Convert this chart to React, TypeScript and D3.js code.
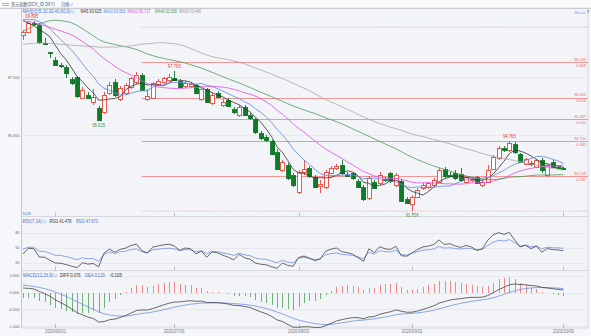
import React from "react";
import * as d3 from "d3";

// ---------- DATA ----------
// closes before the visible window (only used to warm up MA / RSI / MACD)
const priorCloses = [
  98.6, 98.7, 98.9, 99.0, 98.8, 98.9, 99.1, 99.2, 99.0, 98.8, 98.6, 98.5, 98.4, 98.2,
  98.2, 98.5, 98.7, 98.9, 99.1, 99.3, 99.0, 98.8, 98.4, 98.1, 97.8, 97.5, 97.2, 97.3, 96.9, 96.6, 96.8, 96.4, 96.2, 96.0,
  95.3, 94.9, 95.6, 96.0, 96.0,
  97.5, 98.7, 98.9, 99.6, 101.1, 102.7, 102.8, 102.5, 101.9, 101.1, 99.6, 98.6, 99.0, 99.1, 99.6, 100.2, 100.6,
  100.7, 100.0, 100.1, 99.5, 99.5, 99.4, 98.9, 99.4, 100.0, 99.7, 99.9, 100.2, 100.4, 100.4, 100.3, 99.9, 99.6,
];

const opens = [
  99.30, 99.45, 99.82, 99.74, 98.98, 98.57, 98.23, 98.02, 97.93, 97.42,
  97.50, 96.62, 96.75, 96.45, 96.18, 96.00, 96.82, 97.29, 96.56, 96.82,
  97.08, 97.29, 97.59, 96.55, 96.60, 97.22, 97.29, 97.38, 97.48, 97.35,
  97.10, 97.12, 97.16, 96.55, 96.98, 96.38, 96.83, 96.30, 96.52, 96.12,
  95.88, 96.23, 95.87, 95.69, 95.09, 94.92, 94.77, 94.30, 93.52, 93.73,
  93.30, 92.59, 93.40, 93.59, 93.23, 92.80, 92.80, 93.40, 93.60, 93.73,
  93.32, 93.37, 93.06, 92.80, 92.30, 93.00, 92.95, 93.12, 93.38, 92.87,
  93.06, 92.26, 92.09, 92.37, 92.73, 92.77, 92.87, 93.02, 93.55, 93.32,
  93.38, 93.34, 93.00, 93.10, 93.20, 92.87, 93.02, 93.59, 94.02, 94.45,
  94.38, 94.63, 94.20, 93.80, 93.80, 93.66, 93.94, 93.30, 93.87, 93.66,
  93.62,
];
const highs = [
  99.52, 99.88, 99.895, 99.82, 99.18, 98.58, 98.36, 98.10, 98.00, 97.52,
  97.56, 97.08, 96.86, 96.98, 96.28, 96.85, 97.30, 97.42, 97.10, 97.25,
  97.52, 97.70, 97.66, 96.98, 97.30, 97.40, 97.52, 97.62, 97.765, 97.42,
  97.35, 97.30, 97.22, 97.05, 97.05, 96.80, 96.92, 96.58, 96.60, 96.20,
  96.30, 96.30, 95.95, 95.76, 95.18, 95.00, 94.82, 94.40, 93.95, 93.80,
  93.40, 93.50, 93.95, 93.68, 93.30, 93.10, 93.50, 93.68, 93.78, 93.95,
  93.45, 93.45, 93.12, 92.88, 93.25, 93.10, 93.45, 93.22, 93.45, 93.38,
  93.12, 92.35, 92.45, 92.75, 92.95, 93.02, 93.18, 93.60, 93.65, 93.42,
  93.50, 93.62, 93.28, 93.20, 93.28, 93.10, 93.73, 94.15, 94.55, 94.55,
  94.765, 94.70, 94.25, 94.05, 93.90, 94.00, 94.02, 93.78, 93.95, 93.75,
  93.66,
];
const lows = [
  99.10, 99.38, 99.70, 98.90, 98.93, 98.32, 97.98, 97.88, 97.46, 97.18,
  96.62, 96.55, 96.55, 96.30, 95.615, 95.90, 96.75, 96.66, 96.48, 96.75,
  97.00, 97.22, 96.90, 96.48, 96.55, 97.12, 97.20, 97.30, 97.32, 97.02,
  97.02, 97.05, 96.78, 96.48, 96.38, 96.30, 96.60, 96.22, 96.20, 95.92,
  95.80, 95.82, 95.68, 95.05, 94.82, 94.70, 94.18, 93.52, 93.45, 93.10,
  92.80, 92.50, 93.30, 93.18, 92.75, 92.55, 92.72, 93.35, 93.52, 93.30,
  93.20, 93.10, 92.75, 92.18, 92.22, 92.68, 92.88, 93.00, 92.98, 92.80,
  92.15, 92.05, 91.756, 92.30, 92.65, 92.70, 92.80, 92.95, 93.18, 93.22,
  93.10, 93.02, 92.95, 93.02, 92.90, 92.80, 92.95, 93.52, 93.95, 94.30,
  94.30, 94.22, 93.80, 93.72, 93.70, 93.60, 93.38, 93.22, 93.62, 93.58,
  93.52,
];
const closes = [
  99.45, 99.82, 99.78, 99.00, 98.96, 98.55, 98.02, 97.98, 97.68, 97.25,
  96.69, 96.95, 96.62, 96.65, 95.66, 96.72, 97.16, 96.73, 97.03, 97.16,
  97.46, 97.59, 96.95, 96.68, 97.23, 97.35, 97.46, 97.52, 97.40, 97.09,
  97.24, 97.20, 96.83, 96.98, 96.44, 96.73, 96.66, 96.45, 96.26, 95.97,
  96.23, 95.88, 95.73, 95.12, 94.88, 94.77, 94.23, 93.59, 93.87, 93.16,
  92.87, 93.44, 93.55, 93.23, 92.80, 92.90, 93.44, 93.60, 93.70, 93.38,
  93.30, 93.16, 92.80, 92.30, 93.16, 92.73, 93.30, 93.08, 93.02, 93.30,
  92.20, 92.10, 92.37, 92.65, 92.88, 92.95, 93.09, 93.52, 93.23, 93.30,
  93.16, 93.08, 93.20, 93.12, 92.95, 93.02, 93.52, 94.09, 94.45, 94.38,
  94.66, 94.30, 93.87, 94.00, 93.77, 93.94, 93.50, 93.73, 93.66, 93.64,
  93.59,
];

const tickLabels = ["2020/06/01", "2020/07/01", "2020/08/03", "2020/09/01", "2020/10/09"];
const tickIndex = [6, 28, 51, 72, 100];

const fibRatios = ["0.191", "0.382", "0.500", "0.618", "0.809"];
const fibPrices = [93.259, 94.75, 95.687, 96.623, 98.136];
const fibEnds = [91.752, 99.643];
const fibStartIndex = 22;

const maPeriods = [5, 10, 20, 40, 60];
const maNames = ["MA5", "MA10", "MA20", "MA40", "MA60"];
const maLegendValues = ["93.625", "93.603", "93.717", "93.308", "93.448"];

const priceTicks = [97.5, 95.0];
const priceTickLabels = ["97.500", "95.000"];
const rsiTicks = [80, 50, 20];
const macdTicks = [0.5, 0, -0.5, -1];
const macdTickLabels = ["0.500", "0.000", "-0.500", "-1.000"];

const markIndex = [2, 28, 90, 14, 72];
const markPrice = [99.895, 97.765, 94.765, 95.615, 91.756];
const markIsHigh = [true, true, true, false, false];

const rsiLegend = ["RSI(7,14)∨", "RSI1 41.478", "RSI2 47.670"];
const macdLegend = ["MACD(12,26,9)∨", "DIFF 0.076", "DEA 0.129", "-0.105"];

// ---------- STYLE ----------
const RED = "#e8473f";
const GREEN = "#0f7a28";
const FIB = "#f08a8a";
const maColors = ["#333333", "#5d86e8", "#e04fe0", "#4e9b5c", "#a8a8a8"];
const FONT = "'Liberation Sans', Arial, 'Noto Sans CJK SC', sans-serif";

const L = 21.5, R = 588;
const mainTop = 8.5, mainBot = 216.5;
const rsiTop = 216.5, rsiBot = 270.5;
const macdTop = 270.5, macdBot = 328;

// ---------- INDICATORS ----------
const all = [...priorCloses, ...closes];
const P = priorCloses.length;

function movingAvg(n: number) {
  return closes.map((_, k) => d3.mean(all.slice(P + k - n + 1, P + k + 1)) as number);
}
function rsiCalc(n: number) {
  let up = 0, dn = 0;
  const out: number[] = [];
  for (let j = 1; j < all.length; j++) {
    const d = all[j] - all[j - 1];
    up = (Math.max(d, 0) + (n - 1) * up) / n;
    dn = (Math.abs(d) + (n - 1) * dn) / n;
    if (j >= P) out.push(dn === 0 ? 50 : (up / dn) * 100);
  }
  return out;
}
function macdCalc() {
  let e12 = all[0], e26 = all[0], dea = 0;
  const diffs: number[] = [], deas: number[] = [], bars: number[] = [];
  for (let j = 0; j < all.length; j++) {
    const c = all[j];
    e12 = (2 * c + 11 * e12) / 13;
    e26 = (2 * c + 25 * e26) / 27;
    const diff = e12 - e26;
    dea = (2 * diff + 8 * dea) / 10;
    if (j >= P) { diffs.push(diff); deas.push(dea); bars.push(2 * (diff - dea)); }
  }
  return { diffs, deas, bars };
}

// condensed small text (horizontal scale)
function CT(props: { x: number; y: number; s: string; fill: string; sx?: number; size?: number; anchor?: string }) {
  const { x, y, s, fill, sx = 0.82, size = 4.6, anchor = "start" } = props;
  return (
    <g transform={`translate(${x},${y}) scale(${sx},1)`}>
      <text x={0} y={0} fontFamily={FONT} fontSize={size} fill={fill} textAnchor={anchor}>{s}</text>
    </g>
  );
}

export default function App() {
  const x = d3.scaleLinear().domain([0, 100]).range([23, 563.4]);
  const y = d3.scaleLinear().domain([93.259, 98.136]).range([176.0, 62.3]);
  const yr = d3.scaleLinear().domain([20, 80]).range([262.7, 232.7]);
  const ym = d3.scaleLinear().domain([-1, 0.5]).range([326.3, 275.6]);

  const mas = maPeriods.map(movingAvg);
  const rsi1 = rsiCalc(7), rsi2 = rsiCalc(14);
  const { diffs, deas, bars } = macdCalc();

  const lineMain = d3.line<number>().x((_, k) => x(k)).y((v) => y(v));
  const lineR = d3.line<number>().x((_, k) => x(k)).y((v) => yr(v));
  const lineM = d3.line<number>().x((_, k) => x(k)).y((v) => ym(v));
  const cx = (k: number) => Math.round(x(k)) + 0.5;

  const maX = [80.5, 103.5, 127.5, 155, 179];
  const maSx = [0.84, 0.8, 0.84, 0.8, 0.8];

  return (
    <div style={{ position: "fixed", left: 0, top: 0 }}>
      <svg width={591} height={336} viewBox="0 0 591 336" style={{ display: "block" }}>
        <defs>
          <clipPath id="cMain"><rect x={L} y={mainTop} width={R - L} height={mainBot - mainTop} /></clipPath>
          <clipPath id="cRsi"><rect x={L} y={rsiTop} width={R - L} height={rsiBot - rsiTop} /></clipPath>
          <clipPath id="cMacd"><rect x={L} y={macdTop} width={R - L} height={macdBot - macdTop} /></clipPath>
        </defs>
        <rect x={0} y={0} width={591} height={336} fill="#f6f7fa" />
        <rect x={0} y={0} width={591} height={8.5} fill="#fbfbfc" />
        <rect x={L} y={mainTop} width={R - L} height={macdBot - mainTop} fill="#f3f4f8" />

        {/* header */}
        <g stroke="#888" strokeWidth={0.6}>
          <line x1={2} x2={9} y1={3.5} y2={3.5} /><line x1={2} x2={9} y1={5.5} y2={5.5} />
        </g>
        <CT x={11} y={6.3} s="美元指数(DCX_ID DXY)" fill="#555" sx={0.9} size={4.6} />
        <CT x={61} y={6.3} s="日线∨" fill="#555" sx={0.9} size={4.6} />
        <line x1={0} x2={591} y1={8.3} y2={8.3} stroke="#c9cad0" strokeWidth={1.2} />
        <CT x={585.5} y={13.5} s="Bel.au" fill="#7a8fd8" sx={0.9} size={4.2} anchor="end" />
        <path d="M586.5,10.5 L589,10.5 L589,13 Z" fill="#555" />

        {/* panel separators & axis */}
        <g stroke="#cfd1d8" strokeWidth={0.8}>
          <line x1={L} x2={R} y1={rsiTop} y2={rsiTop} />
          <line x1={L} x2={R} y1={macdTop} y2={macdTop} />
          <line x1={L} x2={R} y1={macdBot} y2={macdBot} />
          <line x1={R} x2={R} y1={mainTop} y2={macdBot} />
          <line x1={L} x2={L} y1={mainTop} y2={macdBot} stroke="#b9bbc3" />
        </g>

        {/* grid & axis labels */}
        {priceTicks.map((v, i) => (
          <g key={"pt" + i}>
            <line x1={L} x2={R} y1={Math.round(y(v)) + 0.5} y2={Math.round(y(v)) + 0.5} stroke="#e3e4ea" strokeWidth={0.7} />
            <CT x={19.5} y={y(v) + 1.7} s={priceTickLabels[i]} fill="#666" size={4.4} sx={0.88} anchor="end" />
          </g>
        ))}
        {rsiTicks.map((v, i) => (
          <g key={"rt" + i}>
            <line x1={L} x2={R} y1={Math.round(yr(v)) + 0.5} y2={Math.round(yr(v)) + 0.5} stroke="#e3e4ea" strokeWidth={0.7} />
            <CT x={19.5} y={yr(v) + 1.7} s={String(v)} fill="#666" size={4.4} sx={0.88} anchor="end" />
          </g>
        ))}
        {macdTicks.map((v, i) => (
          <g key={"mt" + i}>
            <line x1={L} x2={R} y1={Math.round(ym(v)) + 0.5} y2={Math.round(ym(v)) + 0.5} stroke="#e3e4ea" strokeWidth={0.7} />
            <CT x={19.5} y={ym(v) + 1.7} s={macdTickLabels[i]} fill="#666" size={4.4} sx={0.88} anchor="end" />
          </g>
        ))}

        {/* date ticks */}
        {tickIndex.map((k, i) => (
          <g key={"dt" + i}>
            {[mainBot, rsiBot, macdBot].map((yy, j) => (
              <line key={j} x1={cx(k)} x2={cx(k)} y1={yy - 4} y2={yy} stroke="#9a9ca4" strokeWidth={0.6} />
            ))}
            <CT x={x(k)} y={332.5} s={tickLabels[i]} fill="#777" size={4.6} sx={0.92} anchor="middle" />
          </g>
        ))}

        {/* fibonacci */}
        <g clipPath="url(#cMain)">
          {fibEnds.map((v, i) => (
            <line key={"fe" + i} x1={x(fibStartIndex)} x2={R} y1={y(v)} y2={y(v)} stroke={FIB} strokeWidth={0.8} strokeDasharray="1,1.6" />
          ))}
          {fibPrices.map((v, i) => (
            <g key={"fp" + i}>
              <line x1={x(fibStartIndex)} x2={R} y1={Math.round(y(v)) + 0.5} y2={Math.round(y(v)) + 0.5} stroke={FIB} strokeWidth={0.9} />
              <CT x={586} y={y(v) - 1.2} s={v.toFixed(3)} fill="#e86a6a" size={4.3} sx={0.9} anchor="end" />
              <CT x={586} y={y(v) + 4.6} s={fibRatios[i]} fill="#e86a6a" size={4.3} sx={0.9} anchor="end" />
            </g>
          ))}
        </g>

        {/* candles */}
        <g clipPath="url(#cMain)" shapeRendering="crispEdges">
          {closes.map((c, k) => {
            const o = opens[k];
            const up = c >= o;
            const col = up ? RED : GREEN;
            const yo = y(o), yc = y(c);
            const top = Math.round(Math.min(yo, yc));
            const h = Math.max(Math.round(Math.abs(yo - yc)), 1);
            const xc = cx(k);
            return (
              <g key={"c" + k}>
                <line x1={xc} x2={xc} y1={y(highs[k])} y2={y(lows[k])} stroke={col} strokeWidth={0.9} />
                <rect x={xc - 2} y={top + 0.5} width={4} height={h} fill={up ? "#fdfdfd" : GREEN} stroke={col} strokeWidth={0.9} />
              </g>
            );
          })}
        </g>

        {/* moving averages */}
        <g clipPath="url(#cMain)" fill="none">
          {mas.map((arr, i) => (
            <path key={"ma" + i} d={lineMain(arr) || ""} stroke={maColors[i]} strokeWidth={0.8} />
          ))}
        </g>

        {/* high / low marks */}
        {markIndex.map((k, i) => (
          <CT key={"mk" + i}
            x={x(k) - (i === 0 ? 2 : 0)}
            y={markIsHigh[i] ? y(markPrice[i]) - 3 : y(markPrice[i]) + 5.6}
            s={markPrice[i].toFixed(3)}
            fill={markIsHigh[i] ? "#e5413a" : "#3f8f4a"}
            size={4.6} sx={0.92} anchor="middle" />
        ))}

        {/* MA legend */}
        <CT x={22.5} y={13.2} s="MA组合(5,10,20,40,60,0)∨" fill="#4a72d9" size={4.6} sx={0.94} />
        {maNames.map((n, i) => (
          <CT key={"ml" + i} x={maX[i]} y={13.2} s={`${n} ${maLegendValues[i]}`}
            fill={i === 4 ? "#999" : maColors[i]} size={4.6} sx={maSx[i]} />
        ))}

        {/* RSI */}
        <CT x={22.5} y={215} s="1029" fill="#4a72d9" size={4.2} sx={0.9} />
        <g clipPath="url(#cRsi)" fill="none">
          <path d={lineR(rsi2) || ""} stroke="#6d8fe6" strokeWidth={0.8} />
          <path d={lineR(rsi1) || ""} stroke="#444" strokeWidth={0.8} />
        </g>
        <CT x={22.5} y={222.8} s={rsiLegend[0]} fill="#4a72d9" size={4.6} sx={1.0} />
        <CT x={49.5} y={222.8} s={rsiLegend[1]} fill="#333" size={4.6} sx={0.86} />
        <CT x={76} y={222.8} s={rsiLegend[2]} fill="#4a72d9" size={4.6} sx={0.86} />

        {/* MACD */}
        <g clipPath="url(#cMacd)">
          {bars.map((b, k) => (
            <line key={"mb" + k} x1={cx(k)} x2={cx(k)} y1={ym(0)} y2={ym(b)} stroke={b >= 0 ? "#ef6b6b" : "#4fa35a"} strokeWidth={0.8} shapeRendering="crispEdges" />
          ))}
          <path d={lineM(deas) || ""} stroke="#6d8fe6" strokeWidth={0.8} fill="none" />
          <path d={lineM(diffs) || ""} stroke="#444" strokeWidth={0.8} fill="none" />
        </g>
        <CT x={23} y={276.8} s={macdLegend[0]} fill="#4a72d9" size={4.6} sx={0.95} />
        <CT x={60} y={276.8} s={macdLegend[1]} fill="#333" size={4.6} sx={0.9} />
        <CT x={85} y={276.8} s={macdLegend[2]} fill="#4a72d9" size={4.6} sx={0.9} />
        <CT x={109.5} y={276.8} s={macdLegend[3]} fill="#333" size={4.6} sx={0.95} />
      </svg>
    </div>
  );
}
